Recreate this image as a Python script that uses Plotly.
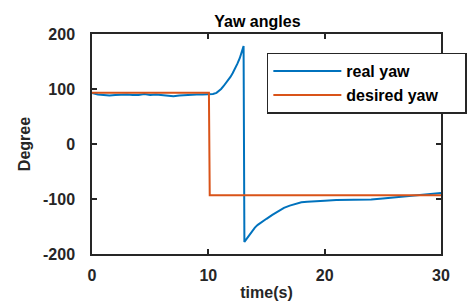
import plotly.graph_objects as go

# Data
t_real = [0, 0.5, 1, 1.5, 2, 2.5, 3, 3.5, 4, 4.5, 5, 5.5, 6, 6.5, 7, 7.5, 8, 8.5, 9, 9.5,
          10, 10.4, 10.7, 10.9, 11.1, 11.3, 11.5, 11.7, 11.9, 12.1, 12.3, 12.5, 12.7, 12.9, 13.03,
          13.1, 13.3, 13.5, 13.75, 14, 14.25, 14.5, 14.75, 15, 15.5, 16, 16.5, 17, 17.5, 18,
          18.5, 19, 19.5, 20, 21, 22, 23, 24, 25, 26, 27, 28, 29, 30]
yaw_real = [93, 90, 89, 88, 89, 90, 90, 89, 89, 91, 89, 90, 89, 87, 87, 88, 89, 89, 90, 90,
            90, 91, 93, 96, 100, 105, 110, 116, 122, 129, 137, 146, 156, 168, 178,
            -178, -172, -165, -158, -152, -147, -143, -139, -136, -129, -122, -116, -112, -109, -106,
            -105, -104, -103, -103, -102, -102, -102, -101, -99, -97, -95, -93, -91, -89]
t_des = [0, 10.05, 10.12, 30]
yaw_des = [93, 93, -93, -93]

x_ticks = [0, 10, 20, 30]
y_ticks = [-200, -100, 0, 100, 200]
y_tick_labels = ["-200", "-100", "0", "100", "200"]

FONT = "Liberation Sans, Arial, sans-serif"
DARK = "#262626"

fig = go.Figure()
fig.add_trace(go.Scatter(x=t_real, y=yaw_real, mode="lines", name="real yaw",
                         line=dict(color="#0072BD", width=2)))
fig.add_trace(go.Scatter(x=t_des, y=yaw_des, mode="lines",
                         name="desired yaw" + "\u00a0" * 5,
                         line=dict(color="#D95319", width=2)))

axis_common = dict(showgrid=False, zeroline=False, showline=True, linecolor=DARK, linewidth=1.5,
                   mirror="ticks", ticks="inside", ticklen=5, tickwidth=1.5, tickcolor=DARK,
                   automargin=False,
                   tickfont=dict(family=FONT, size=16, color=DARK, weight="bold"))

fig.update_layout(
    width=469, height=302,
    margin=dict(l=92, r=28, t=34, b=48, autoexpand=False),
    paper_bgcolor="white", plot_bgcolor="white",
    title=dict(text="Yaw angles", x=0.474, xref="paper", xanchor="center",
               y=1 - 21 / 302, yref="container", yanchor="middle",
               font=dict(family=FONT, size=16, color="black", weight="bold")),
    xaxis=dict(range=[0, 30], tickvals=x_ticks, ticklabelstandoff=6,
               title=dict(text="time(s)", standoff=4,
                          font=dict(family=FONT, size=16, color=DARK, weight="bold")),
               **axis_common),
    yaxis=dict(range=[-200, 200], tickvals=y_ticks, ticktext=y_tick_labels, ticklabelstandoff=12,
               title=dict(text="Degree", standoff=8,
                          font=dict(family=FONT, size=16, color=DARK, weight="bold")),
               **axis_common),
    legend=dict(x=0.501, y=0.915, xanchor="left", yanchor="top",
                bgcolor="white", bordercolor=DARK, borderwidth=1.5, itemwidth=68,
                font=dict(family=FONT, size=16, color="black", weight="bold"),
                tracegroupgap=0),
    showlegend=True,
)

fig.write_html("out.html", post_script="document.body.style.margin='0';",
               config={"displayModeBar": False})
